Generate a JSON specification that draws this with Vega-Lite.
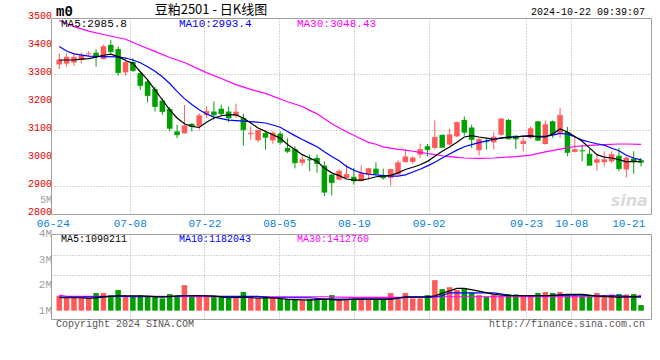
{
  "$schema": "https://vega.github.io/schema/vega-lite/v6.json",
  "background": "white",
  "padding": {"left": 10, "top": 3, "right": 0, "bottom": 0},
  "autosize": {"type": "pad"},
  "bounds": "flush",
  "spacing": 20,
  "config": {
    "view": {"stroke": "#a0a0a0", "strokeWidth": 1},
    "text": {"font": "Liberation Mono"},
    "axis": {"labelFont": "Liberation Mono"}
  },
  "datasets": {
    "k": [
      {"i":0,"date":"06-24","open":3334,"high":3374,"low":3318,"close":3350,"volume":1584000},
      {"i":1,"date":"06-25","open":3337,"high":3374,"low":3326,"close":3360,"volume":1506000},
      {"i":2,"date":"06-26","open":3341,"high":3374,"low":3329,"close":3360,"volume":1506000},
      {"i":3,"date":"06-27","open":3350,"high":3376,"low":3338,"close":3365,"volume":1506000},
      {"i":4,"date":"06-28","open":3371,"high":3381,"low":3362,"close":3372,"volume":1480000},
      {"i":5,"date":"07-01","open":3376,"high":3388,"low":3326,"close":3366,"volume":1690000},
      {"i":6,"date":"07-02","open":3353,"high":3405,"low":3353,"close":3398,"volume":1690000},
      {"i":7,"date":"07-03","open":3404,"high":3421,"low":3374,"close":3380,"volume":1610000},
      {"i":8,"date":"07-04","open":3389,"high":3398,"low":3294,"close":3305,"volume":1810000},
      {"i":9,"date":"07-05","open":3306,"high":3356,"low":3294,"close":3341,"volume":1584000},
      {"i":10,"date":"07-08","open":3343,"high":3356,"low":3308,"close":3312,"volume":1560000},
      {"i":11,"date":"07-09","open":3303,"high":3308,"low":3243,"close":3259,"volume":1610000},
      {"i":12,"date":"07-10","open":3273,"high":3279,"low":3198,"close":3223,"volume":1570000},
      {"i":13,"date":"07-11","open":3246,"high":3255,"low":3166,"close":3184,"volume":1545000},
      {"i":14,"date":"07-12","open":3205,"high":3214,"low":3154,"close":3166,"volume":1480000},
      {"i":15,"date":"07-15","open":3175,"high":3182,"low":3095,"close":3106,"volume":1650000},
      {"i":16,"date":"07-16","open":3095,"high":3119,"low":3071,"close":3083,"volume":1570000},
      {"i":17,"date":"07-17","open":3088,"high":3190,"low":3088,"close":3115,"volume":2000000},
      {"i":18,"date":"07-18","open":3122,"high":3125,"low":3095,"close":3113,"volume":1545000},
      {"i":19,"date":"07-19","open":3113,"high":3160,"low":3101,"close":3151,"volume":1584000},
      {"i":20,"date":"07-22","open":3154,"high":3184,"low":3143,"close":3166,"volume":1545000},
      {"i":21,"date":"07-23","open":3166,"high":3202,"low":3137,"close":3154,"volume":1545000},
      {"i":22,"date":"07-24","open":3176,"high":3190,"low":3150,"close":3158,"volume":1545000},
      {"i":23,"date":"07-25","open":3166,"high":3184,"low":3128,"close":3143,"volume":1506000},
      {"i":24,"date":"07-26","open":3152,"high":3194,"low":3143,"close":3164,"volume":1506000},
      {"i":25,"date":"07-29","open":3143,"high":3158,"low":3044,"close":3101,"volume":1730000},
      {"i":26,"date":"07-30","open":3085,"high":3113,"low":3065,"close":3088,"volume":1545000},
      {"i":27,"date":"07-31","open":3063,"high":3099,"low":3056,"close":3099,"volume":1480000},
      {"i":28,"date":"08-01","open":3089,"high":3095,"low":3030,"close":3074,"volume":1570000},
      {"i":29,"date":"08-02","open":3063,"high":3095,"low":3051,"close":3089,"volume":1506000},
      {"i":30,"date":"08-05","open":3087,"high":3095,"low":3048,"close":3056,"volume":1455000},
      {"i":31,"date":"08-06","open":3036,"high":3071,"low":3018,"close":3024,"volume":1455000},
      {"i":32,"date":"08-07","open":3032,"high":3042,"low":2963,"close":2983,"volume":1455000},
      {"i":33,"date":"08-08","open":2983,"high":3012,"low":2973,"close":2994,"volume":1415000},
      {"i":34,"date":"08-09","open":2995,"high":3012,"low":2953,"close":2993,"volume":1455000},
      {"i":35,"date":"08-12","open":3000,"high":3012,"low":2947,"close":2980,"volume":1415000},
      {"i":36,"date":"08-13","open":2973,"high":2988,"low":2864,"close":2878,"volume":1415000},
      {"i":37,"date":"08-14","open":2941,"high":2941,"low":2866,"close":2912,"volume":1610000},
      {"i":38,"date":"08-15","open":2923,"high":2959,"low":2920,"close":2953,"volume":1415000},
      {"i":39,"date":"08-16","open":2929,"high":2976,"low":2926,"close":2941,"volume":1415000},
      {"i":40,"date":"08-19","open":2933,"high":2965,"low":2905,"close":2918,"volume":1455000},
      {"i":41,"date":"08-20","open":2917,"high":2974,"low":2917,"close":2944,"volume":1455000},
      {"i":42,"date":"08-21","open":2941,"high":2965,"low":2923,"close":2962,"volume":1415000},
      {"i":43,"date":"08-22","open":2962,"high":2985,"low":2942,"close":2944,"volume":1455000},
      {"i":44,"date":"08-23","open":2937,"high":2962,"low":2923,"close":2929,"volume":1455000},
      {"i":45,"date":"08-26","open":2929,"high":2962,"low":2902,"close":2959,"volume":1690000},
      {"i":46,"date":"08-27","open":2941,"high":2992,"low":2941,"close":2983,"volume":1455000},
      {"i":47,"date":"08-28","open":2985,"high":3032,"low":2985,"close":3004,"volume":1690000},
      {"i":48,"date":"08-29","open":2986,"high":3006,"low":2980,"close":3000,"volume":1480000},
      {"i":49,"date":"08-30","open":3012,"high":3051,"low":3000,"close":3030,"volume":1480000},
      {"i":50,"date":"09-02","open":3042,"high":3050,"low":3006,"close":3030,"volume":1610000},
      {"i":51,"date":"09-03","open":3036,"high":3134,"low":3030,"close":3074,"volume":2195000},
      {"i":52,"date":"09-04","open":3083,"high":3083,"low":3038,"close":3038,"volume":1845000},
      {"i":53,"date":"09-05","open":3048,"high":3105,"low":3045,"close":3083,"volume":1920000},
      {"i":54,"date":"09-06","open":3077,"high":3130,"low":3075,"close":3127,"volume":1810000},
      {"i":55,"date":"09-09","open":3136,"high":3148,"low":3080,"close":3092,"volume":1870000},
      {"i":56,"date":"09-10","open":3109,"high":3119,"low":3036,"close":3066,"volume":1700000},
      {"i":57,"date":"09-11","open":3028,"high":3072,"low":3009,"close":3066,"volume":1610000},
      {"i":58,"date":"09-12","open":3060,"high":3068,"low":3030,"close":3058,"volume":1545000},
      {"i":59,"date":"09-13","open":3056,"high":3092,"low":3030,"close":3075,"volume":1610000},
      {"i":60,"date":"09-18","open":3083,"high":3140,"low":3080,"close":3140,"volume":1584000},
      {"i":61,"date":"09-19","open":3136,"high":3139,"low":3068,"close":3068,"volume":1650000},
      {"i":62,"date":"09-20","open":3080,"high":3080,"low":3032,"close":3068,"volume":1636000},
      {"i":63,"date":"09-23","open":3050,"high":3075,"low":3024,"close":3060,"volume":1584000},
      {"i":64,"date":"09-24","open":3072,"high":3113,"low":3068,"close":3105,"volume":1584000},
      {"i":65,"date":"09-25","open":3131,"high":3132,"low":3062,"close":3063,"volume":1690000},
      {"i":66,"date":"09-26","open":3050,"high":3134,"low":3048,"close":3119,"volume":1730000},
      {"i":67,"date":"09-27","open":3131,"high":3134,"low":3072,"close":3086,"volume":1690000},
      {"i":68,"date":"09-30","open":3086,"high":3180,"low":3072,"close":3152,"volume":1730000},
      {"i":69,"date":"10-08","open":3093,"high":3111,"low":3006,"close":3020,"volume":1610000},
      {"i":70,"date":"10-09","open":3022,"high":3077,"low":3020,"close":3030,"volume":1610000},
      {"i":71,"date":"10-10","open":3027,"high":3048,"low":2988,"close":3025,"volume":1584000},
      {"i":72,"date":"10-11","open":3015,"high":3032,"low":2974,"close":2974,"volume":1584000},
      {"i":73,"date":"10-14","open":2983,"high":3015,"low":2955,"close":2994,"volume":1690000},
      {"i":74,"date":"10-15","open":2985,"high":3024,"low":2970,"close":2994,"volume":1610000},
      {"i":75,"date":"10-16","open":2988,"high":3024,"low":2982,"close":3012,"volume":1636000},
      {"i":76,"date":"10-17","open":3008,"high":3036,"low":2953,"close":2962,"volume":1650000},
      {"i":77,"date":"10-18","open":2959,"high":3006,"low":2931,"close":3000,"volume":1636000},
      {"i":78,"date":"10-21","open":2998,"high":3024,"low":2944,"close":2989,"volume":1650000},
      {"i":79,"date":"10-22","open":2992,"high":3000,"low":2970,"close":2985,"volume":1220000}
    ],
    "ma5": [
      {"i":0,"v":3350},{"i":1,"v":3350},{"i":2,"v":3350},{"i":3,"v":3353},{"i":4,"v":3355},{"i":5,"v":3360},{"i":6,"v":3367},{"i":7,"v":3371},{"i":8,"v":3362},{"i":9,"v":3348},
      {"i":10,"v":3338},{"i":11,"v":3308},{"i":12,"v":3279},{"i":13,"v":3243},{"i":14,"v":3208},{"i":15,"v":3172},{"i":16,"v":3143},{"i":17,"v":3122},{"i":18,"v":3113},{"i":19,"v":3109},
      {"i":20,"v":3128},{"i":21,"v":3143},{"i":22,"v":3151},{"i":23,"v":3154},{"i":24,"v":3154},{"i":25,"v":3143},{"i":26,"v":3125},{"i":27,"v":3107},{"i":28,"v":3095},{"i":29,"v":3083},
      {"i":30,"v":3071},{"i":31,"v":3048},{"i":32,"v":3030},{"i":33,"v":3012},{"i":34,"v":3000},{"i":35,"v":2988},{"i":36,"v":2964},{"i":37,"v":2947},{"i":38,"v":2937},{"i":39,"v":2925},
      {"i":40,"v":2921},{"i":41,"v":2921},{"i":42,"v":2926},{"i":43,"v":2933},{"i":44,"v":2935},{"i":45,"v":2938},{"i":46,"v":2947},{"i":47,"v":2959},{"i":48,"v":2967},{"i":49,"v":2976},
      {"i":50,"v":2988},{"i":51,"v":3006},{"i":52,"v":3024},{"i":53,"v":3039},{"i":54,"v":3056},{"i":55,"v":3075},{"i":56,"v":3080},{"i":57,"v":3075},{"i":58,"v":3071},{"i":59,"v":3067},
      {"i":60,"v":3071},{"i":61,"v":3074},{"i":62,"v":3075},{"i":63,"v":3078},{"i":64,"v":3080},{"i":65,"v":3075},{"i":66,"v":3075},{"i":67,"v":3086},{"i":68,"v":3104},{"i":69,"v":3093},
      {"i":70,"v":3077},{"i":71,"v":3060},{"i":72,"v":3036},{"i":73,"v":3012},{"i":74,"v":3003},{"i":75,"v":3000},{"i":76,"v":2994},{"i":77,"v":2986},{"i":78,"v":2988},{"i":79,"v":2985.8}
    ],
    "ma10": [
      {"i":0,"v":3398},{"i":1,"v":3382},{"i":2,"v":3372},{"i":4,"v":3364},{"i":6,"v":3362},{"i":8,"v":3361},{"i":9,"v":3357},{"i":10,"v":3350},{"i":11,"v":3340},{"i":12,"v":3326},
      {"i":13,"v":3310},{"i":14,"v":3290},{"i":15,"v":3266},{"i":16,"v":3238},{"i":17,"v":3212},{"i":18,"v":3191},{"i":19,"v":3172},{"i":20,"v":3157},{"i":21,"v":3146},{"i":23,"v":3135},
      {"i":26,"v":3130},{"i":28,"v":3125},{"i":29,"v":3118},{"i":30,"v":3110},{"i":31,"v":3095},{"i":32,"v":3080},{"i":33,"v":3066},{"i":34,"v":3053},{"i":35,"v":3040},{"i":36,"v":3022},
      {"i":37,"v":3005},{"i":38,"v":2990},{"i":39,"v":2970},{"i":40,"v":2956},{"i":41,"v":2947},{"i":42,"v":2942},{"i":43,"v":2940},{"i":44,"v":2937},{"i":45,"v":2935},{"i":46,"v":2935},
      {"i":47,"v":2940},{"i":48,"v":2950},{"i":49,"v":2960},{"i":50,"v":2972},{"i":51,"v":2985},{"i":52,"v":3000},{"i":53,"v":3014},{"i":54,"v":3028},{"i":55,"v":3040},{"i":56,"v":3048},
      {"i":57,"v":3055},{"i":58,"v":3061},{"i":59,"v":3066},{"i":60,"v":3072},{"i":61,"v":3075},{"i":63,"v":3077},{"i":66,"v":3077},{"i":67,"v":3082},{"i":68,"v":3088},{"i":69,"v":3085},
      {"i":70,"v":3076},{"i":71,"v":3064},{"i":72,"v":3057},{"i":73,"v":3051},{"i":74,"v":3046},{"i":75,"v":3035},{"i":76,"v":3026},{"i":77,"v":3010},{"i":78,"v":3000},{"i":79,"v":2993.4}
    ],
    "ma30": [
      {"i":0,"v":3491},{"i":2,"v":3469},{"i":4,"v":3453},{"i":6,"v":3441},{"i":9,"v":3424},{"i":11,"v":3402},{"i":13,"v":3381},{"i":15,"v":3359},{"i":17,"v":3341},{"i":20,"v":3305},
      {"i":22,"v":3284},{"i":24,"v":3262},{"i":26,"v":3245},{"i":28,"v":3231},{"i":31,"v":3201},{"i":33,"v":3184},{"i":34,"v":3170},{"i":35,"v":3158},{"i":36,"v":3140},{"i":37,"v":3122},
      {"i":38,"v":3108},{"i":39,"v":3094},{"i":40,"v":3081},{"i":41,"v":3068},{"i":42,"v":3056},{"i":43,"v":3049},{"i":44,"v":3040},{"i":45,"v":3035},{"i":46,"v":3031},{"i":47,"v":3028},
      {"i":48,"v":3024},{"i":49,"v":3020},{"i":50,"v":3016},{"i":51,"v":3012},{"i":52,"v":3008},{"i":53,"v":3005},{"i":54,"v":3002},{"i":55,"v":3000},{"i":57,"v":2999},{"i":59,"v":3000},
      {"i":62,"v":3005},{"i":64,"v":3010},{"i":66,"v":3022},{"i":68,"v":3032},{"i":70,"v":3041},{"i":72,"v":3045},{"i":74,"v":3048},{"i":76,"v":3050},{"i":77,"v":3050},{"i":79,"v":3048.43}
    ],
    "vma5": [
      {"i":0,"v":1506000},{"i":3,"v":1506000},{"i":4,"v":1480000},{"i":6,"v":1530000},{"i":8,"v":1584000},{"i":10,"v":1584000},{"i":12,"v":1570000},{"i":14,"v":1530000},{"i":16,"v":1584000},{"i":19,"v":1584000},
      {"i":21,"v":1570000},{"i":23,"v":1506000},{"i":25,"v":1530000},{"i":27,"v":1490000},{"i":29,"v":1506000},{"i":31,"v":1440000},{"i":34,"v":1415000},{"i":36,"v":1455000},{"i":38,"v":1415000},{"i":40,"v":1455000},
      {"i":45,"v":1455000},{"i":47,"v":1545000},{"i":50,"v":1545000},{"i":51,"v":1584000},{"i":52,"v":1675000},{"i":54,"v":1870000},{"i":55,"v":1870000},{"i":57,"v":1766000},{"i":59,"v":1636000},{"i":61,"v":1584000},
      {"i":66,"v":1584000},{"i":69,"v":1636000},{"i":71,"v":1636000},{"i":73,"v":1570000},{"i":76,"v":1530000},{"i":79,"v":1545000}
    ],
    "vma10": [
      {"i":0,"v":1530000},{"i":3,"v":1530000},{"i":5,"v":1545000},{"i":8,"v":1570000},{"i":10,"v":1545000},{"i":15,"v":1545000},{"i":17,"v":1584000},{"i":20,"v":1584000},{"i":22,"v":1560000},{"i":27,"v":1560000},
      {"i":29,"v":1506000},{"i":34,"v":1506000},{"i":36,"v":1455000},{"i":45,"v":1455000},{"i":47,"v":1520000},{"i":50,"v":1520000},{"i":52,"v":1584000},{"i":53,"v":1700000},{"i":59,"v":1700000},{"i":61,"v":1610000},
      {"i":63,"v":1584000},{"i":67,"v":1584000},{"i":69,"v":1610000},{"i":71,"v":1610000},{"i":73,"v":1584000},{"i":76,"v":1584000},{"i":79,"v":1530000}
    ],
    "vma30": [
      {"i":0,"v":1610000},{"i":1,"v":1560000},{"i":15,"v":1560000},{"i":20,"v":1545000},{"i":36,"v":1545000},{"i":40,"v":1520000},{"i":50,"v":1520000},{"i":52,"v":1545000},{"i":78,"v":1545000},{"i":79,"v":1600000}
    ],
    "priceTicks": [{"v":2800},{"v":2900},{"v":3000},{"v":3100},{"v":3200},{"v":3300},{"v":3400},{"v":3500}],
    "volTicks": [{"v":1000000,"t":"1M"},{"v":2000000,"t":"2M"},{"v":3000000,"t":"3M"},{"v":4000000,"t":"4M"}],
    "notes": [{"n": 1}]
  },
  "vconcat": [
    {
      "width": 600,
      "height": 196,
      "layer": [
        {
          "data": {"name": "k"},
          "mark": {"type": "rule", "strokeWidth": 1},
          "encoding": {
            "x": {
              "field": "i", "type": "quantitative",
              "scale": {"domain": [-0.44, 79.67], "nice": false, "zero": false},
              "axis": {
                "values": [-0.88, 9.57, 19.72, 29.87, 40.01, 50.16, 63.38, 69.52, 77.26],
                "labelExpr": "datum.value < 0 ? '06-24' : datum.value < 10 ? '07-08' : datum.value < 20 ? '07-22' : datum.value < 30 ? '08-05' : datum.value < 41 ? '08-19' : datum.value < 51 ? '09-02' : datum.value < 64 ? '09-23' : datum.value < 70 ? '10-08' : '10-21'",
                "grid": true,
                "gridOpacity": {"condition": {"test": "datum.value < 0 || datum.value > 75", "value": 0}, "value": 1},
                "gridColor": "#a8a8a8", "gridDash": [1, 2],
                "ticks": false, "domain": false, "title": null,
                "labelColor": "#0a7fd8", "labelFontSize": 11, "labelPadding": 3,
                "labelFlush": false, "labelOverlap": false, "labelBound": false
              }
            },
            "y": {
              "field": "low", "type": "quantitative",
              "scale": {"domain": [2800, 3500], "nice": false, "zero": false},
              "axis": {
                "values": [2900, 3000, 3100, 3200, 3300, 3400],
                "labels": false,
                "grid": true, "gridColor": "#a8a8a8", "gridDash": [1, 2],
                "ticks": false, "domain": false, "title": null,
                "minExtent": 40, "maxExtent": 40
              }
            },
            "y2": {"field": "high"},
            "color": {"condition": {"test": "datum.close >= datum.open", "value": "#ff5a5a"}, "value": "#00a000"}
          }
        },
        {
          "data": {"name": "k"},
          "mark": {"type": "bar", "width": 5.5},
          "encoding": {
            "x": {"field": "i", "type": "quantitative"},
            "y": {"field": "open", "type": "quantitative"},
            "y2": {"field": "close"},
            "color": {"condition": {"test": "datum.close >= datum.open", "value": "#ff5a5a"}, "value": "#00a000"}
          }
        },
        {
          "data": {"name": "k"},
          "mark": {"type": "tick", "orient": "horizontal", "size": 5.5, "thickness": 1},
          "encoding": {
            "x": {"field": "i", "type": "quantitative"},
            "y": {"field": "close", "type": "quantitative"},
            "color": {"condition": {"test": "datum.close >= datum.open", "value": "#ff5a5a"}, "value": "#00a000"}
          }
        },
        {
          "data": {"name": "ma30"},
          "mark": {"type": "line", "color": "#ff00ff", "strokeWidth": 1.2},
          "encoding": {"x": {"field": "i", "type": "quantitative"}, "y": {"field": "v", "type": "quantitative"}}
        },
        {
          "data": {"name": "ma10"},
          "mark": {"type": "line", "color": "#0000ff", "strokeWidth": 1.2},
          "encoding": {"x": {"field": "i", "type": "quantitative"}, "y": {"field": "v", "type": "quantitative"}}
        },
        {
          "data": {"name": "ma5"},
          "mark": {"type": "line", "color": "#000000", "strokeWidth": 1.2},
          "encoding": {"x": {"field": "i", "type": "quantitative"}, "y": {"field": "v", "type": "quantitative"}}
        },
        {
          "data": {"name": "priceTicks"},
          "mark": {"type": "text", "align": "right", "baseline": "middle", "dx": -4, "dy": -2, "fontSize": 10, "color": "#e60000"},
          "encoding": {"x": {"datum": -0.44}, "y": {"field": "v", "type": "quantitative"}, "text": {"field": "v", "type": "quantitative", "format": "d"}}
        },
        {
          "data": {"name": "notes"},
          "mark": {"type": "text", "align": "left", "baseline": "middle", "fontSize": 14, "fontWeight": "bold", "color": "#000000"},
          "encoding": {"x": {"datum": -0.44}, "y": {"datum": 3523}, "text": {"value": "m0"}}
        },
        {
          "data": {"name": "notes"},
          "mark": {"type": "text", "align": "center", "baseline": "middle", "font": "Noto Sans CJK SC", "fontSize": 13, "color": "#000000"},
          "encoding": {"x": {"datum": 20.6}, "y": {"datum": 3530}, "text": {"value": "豆粕2501 - 日K线图"}}
        },
        {
          "data": {"name": "notes"},
          "mark": {"type": "text", "align": "right", "baseline": "middle", "fontSize": 10, "color": "#000000"},
          "encoding": {"x": {"datum": 79.53}, "y": {"datum": 3522.5}, "text": {"value": "2024-10-22 09:39:07"}}
        },
        {
          "data": {"name": "notes"},
          "mark": {"type": "text", "align": "left", "baseline": "middle", "fontSize": 11, "color": "#000000"},
          "encoding": {"x": {"datum": 0.23}, "y": {"datum": 3478.6}, "text": {"value": "MA5:2985.8"}}
        },
        {
          "data": {"name": "notes"},
          "mark": {"type": "text", "align": "left", "baseline": "middle", "fontSize": 11, "color": "#0000ff"},
          "encoding": {"x": {"datum": 16.25}, "y": {"datum": 3478.6}, "text": {"value": "MA10:2993.4"}}
        },
        {
          "data": {"name": "notes"},
          "mark": {"type": "text", "align": "left", "baseline": "middle", "fontSize": 11, "color": "#ff00ff"},
          "encoding": {"x": {"datum": 32.27}, "y": {"datum": 3478.6}, "text": {"value": "MA30:3048.43"}}
        },
        {
          "data": {"name": "notes"},
          "mark": {"type": "text", "align": "right", "baseline": "middle", "dx": -4, "fontSize": 10, "color": "#a0a0a0"},
          "encoding": {"x": {"datum": -0.44}, "y": {"datum": 2850}, "text": {"value": "5M"}}
        },
        {
          "data": {"name": "notes"},
          "mark": {"type": "text", "align": "center", "baseline": "middle", "font": "DejaVu Sans", "fontSize": 16, "fontWeight": "bold", "fontStyle": "italic", "color": "#dadada"},
          "encoding": {"x": {"datum": 77.4}, "y": {"datum": 2848}, "text": {"value": "sina"}}
        }
      ]
    },
    {
      "width": 600,
      "height": 85,
      "layer": [
        {
          "data": {"name": "k"},
          "mark": {"type": "bar", "width": 5.5},
          "encoding": {
            "x": {
              "field": "i", "type": "quantitative",
              "scale": {"domain": [-0.44, 79.67], "nice": false, "zero": false},
              "axis": {
                "values": [9.57, 19.72, 29.87, 40.01, 50.16, 63.38, 69.52],
                "labels": false, "ticks": false, "domain": false, "title": null,
                "grid": true, "gridColor": "#a8a8a8", "gridDash": [1, 2]
              }
            },
            "y": {
              "field": "volume", "type": "quantitative",
              "scale": {"domain": [675000, 4000000], "nice": false, "zero": false},
              "axis": {
                "values": [2384000, 3167000],
                "labels": false,
                "grid": true, "gridColor": "#a8a8a8", "gridDash": [1, 2],
                "ticks": false, "domain": false, "title": null,
                "minExtent": 40, "maxExtent": 40
              }
            },
            "y2": {"datum": 1000000},
            "color": {"condition": {"test": "datum.close >= datum.open", "value": "#ff5a5a"}, "value": "#00a000"}
          }
        },
        {
          "data": {"name": "vma30"},
          "mark": {"type": "line", "color": "#ff00ff", "strokeWidth": 1.2},
          "encoding": {"x": {"field": "i", "type": "quantitative"}, "y": {"field": "v", "type": "quantitative"}}
        },
        {
          "data": {"name": "vma10"},
          "mark": {"type": "line", "color": "#0000ff", "strokeWidth": 1.2},
          "encoding": {"x": {"field": "i", "type": "quantitative"}, "y": {"field": "v", "type": "quantitative"}}
        },
        {
          "data": {"name": "vma5"},
          "mark": {"type": "line", "color": "#000000", "strokeWidth": 1.2},
          "encoding": {"x": {"field": "i", "type": "quantitative"}, "y": {"field": "v", "type": "quantitative"}}
        },
        {
          "data": {"name": "volTicks"},
          "mark": {"type": "text", "align": "right", "baseline": "middle", "dx": -4, "fontSize": 11, "color": "#a0a0a0"},
          "encoding": {"x": {"datum": -0.44}, "y": {"field": "v", "type": "quantitative"}, "text": {"field": "t", "type": "nominal"}}
        },
        {
          "data": {"name": "notes"},
          "mark": {"type": "text", "align": "left", "baseline": "middle", "fontSize": 10, "color": "#000000"},
          "encoding": {"x": {"datum": 0.23}, "y": {"datum": 3804000}, "text": {"value": "MA5:1090211"}}
        },
        {
          "data": {"name": "notes"},
          "mark": {"type": "text", "align": "left", "baseline": "middle", "fontSize": 10, "color": "#0000ff"},
          "encoding": {"x": {"datum": 16.25}, "y": {"datum": 3804000}, "text": {"value": "MA10:1182043"}}
        },
        {
          "data": {"name": "notes"},
          "mark": {"type": "text", "align": "left", "baseline": "middle", "fontSize": 10, "color": "#ff00ff"},
          "encoding": {"x": {"datum": 32.27}, "y": {"datum": 3804000}, "text": {"value": "MA30:1412760"}}
        },
        {
          "data": {"name": "notes"},
          "mark": {"type": "text", "align": "left", "baseline": "middle", "fontSize": 10, "color": "#555555"},
          "encoding": {"x": {"datum": -0.44}, "y": {"datum": 480000}, "text": {"value": "Copyright 2024 SINA.COM"}}
        },
        {
          "data": {"name": "notes"},
          "mark": {"type": "text", "align": "right", "baseline": "middle", "fontSize": 10, "color": "#555555"},
          "encoding": {"x": {"datum": 79.53}, "y": {"datum": 480000}, "text": {"value": "http://finance.sina.com.cn"}}
        }
      ]
    }
  ]
}
